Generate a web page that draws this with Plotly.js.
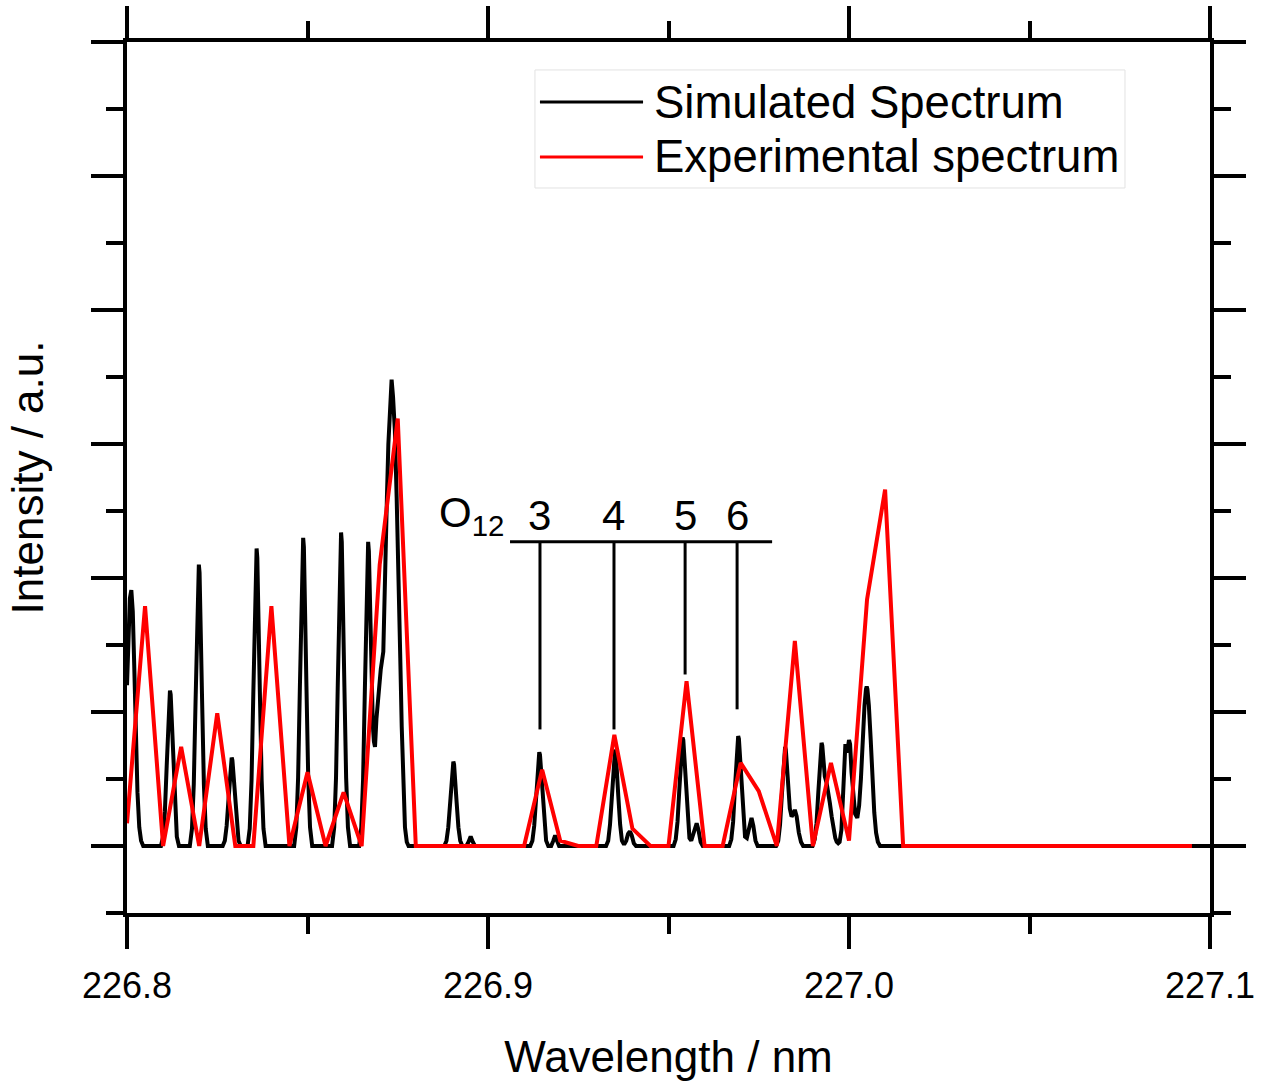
<!DOCTYPE html>
<html>
<head>
<meta charset="utf-8">
<script src="https://cdn.plot.ly/plotly-3.0.1.min.js"></script>
<style>html,body{margin:0;padding:0;background:#fff;}#chart{width:1269px;height:1088px;}</style>
</head>
<body>
<div id="chart"></div>
<script>
// ---- data ----
const seriesNames = ["Simulated Spectrum", "Experimental spectrum"];

// Simulated spectrum (black), wavelength in nm
const simX = [
226.8000,226.8004,226.8008,226.8012,226.8016,226.8020,226.8024,226.8029,226.8034,226.8039,226.8045,
226.8094,226.8100,226.8105,226.8110,226.8114,226.8117,226.8119,226.8121,226.8124,226.8128,226.8133,226.8138,226.8144,
226.8174,226.8180,226.8185,226.8190,226.8194,226.8197,226.8199,226.8201,226.8204,226.8208,226.8213,226.8218,226.8224,
226.8265,226.8271,226.8276,226.8281,226.8285,226.8288,226.8290,226.8292,226.8295,226.8299,226.8304,226.8309,226.8315,
226.8334,226.8340,226.8345,226.8350,226.8354,226.8357,226.8359,226.8361,226.8364,226.8368,226.8373,226.8378,226.8384,
226.8463,226.8469,226.8474,226.8479,226.8483,226.8486,226.8488,226.8490,226.8493,226.8497,226.8502,226.8507,226.8513,
226.8568,226.8574,226.8579,226.8584,226.8588,226.8591,226.8593,226.8595,226.8598,226.8602,226.8607,226.8612,226.8618,
226.8643,226.8649,226.8654,226.8659,226.8663,226.8666,226.8668,226.8670,226.8673,226.8677,226.8681,226.8684,226.8687,
226.8691,226.8696,226.8703,226.8710,226.8716,226.8720,226.8724,226.8728,226.8733,226.8737,226.8742,226.8747,226.8752,
226.8757,226.8761,226.8766,226.8770,226.8775,226.8780,
226.8879,226.8885,226.8890,226.8895,226.8899,226.8902,226.8904,226.8906,226.8909,226.8913,226.8918,226.8923,226.8929,
226.8940,226.8946,226.8952,226.8958,226.8964,
226.9117,226.9123,226.9128,226.9133,226.9137,226.9140,226.9142,226.9144,226.9147,226.9151,226.9156,226.9161,226.9167,
226.9175,226.9181,226.9186,226.9191,226.9197,
226.9327,226.9333,226.9338,226.9343,226.9347,226.9350,226.9352,226.9354,226.9357,226.9361,226.9366,226.9371,226.9377,
226.9383,226.9388,226.9393,226.9398,226.9404,226.9410,
226.9514,226.9520,226.9525,226.9530,226.9534,226.9537,226.9539,226.9541,226.9544,226.9548,226.9553,226.9558,
226.9563,226.9568,226.9573,226.9578,226.9583,226.9589,226.9595,
226.9668,226.9674,226.9679,226.9684,226.9688,226.9691,226.9693,226.9695,226.9698,226.9702,226.9707,226.9712,
226.9717,226.9722,226.9726,226.9730,226.9735,226.9741,226.9747,
226.9798,226.9804,226.9809,226.9814,226.9818,226.9821,226.9823,226.9825,226.9828,226.9832,226.9836,226.9841,226.9846,
226.9850,226.9855,226.9861,226.9867,226.9873,
226.9899,226.9905,226.9910,226.9915,226.9919,226.9922,226.9924,226.9926,226.9929,226.9933,226.9938,226.9943,226.9947,
226.9952,226.9957,226.9962,226.9966,226.9970,
226.9974,226.9979,226.9983,226.9987,226.9990,226.9993,226.9996,227.0000,227.0003,227.0007,227.0012,227.0017,227.0023,
227.0028,227.0033,227.0038,227.0043,227.0047,227.0049,227.0051,227.0055,227.0060,227.0065,227.0070,227.0075,227.0080,227.0086,
227.1000
];
const simY = [
1.20,1.60,1.85,1.91,1.75,1.35,0.85,0.40,0.14,0.04,0,
0,0.07,0.26,0.60,0.95,1.13,1.16,1.13,0.95,0.60,0.26,0.07,0,
0,0.13,0.46,1.09,1.72,2.04,2.10,2.04,1.72,1.09,0.46,0.13,0,
0,0.04,0.15,0.34,0.54,0.64,0.66,0.64,0.54,0.34,0.15,0.04,0,
0,0.13,0.49,1.15,1.82,2.15,2.22,2.15,1.82,1.15,0.49,0.13,0,
0,0.14,0.51,1.20,1.89,2.23,2.30,2.23,1.89,1.20,0.51,0.14,0,
0,0.14,0.51,1.22,1.92,2.27,2.34,2.27,1.92,1.22,0.51,0.14,0,
0,0.14,0.50,1.18,1.86,2.20,2.27,2.20,1.80,1.25,0.90,0.78,0.74,
0.95,1.14,1.32,1.45,2.00,2.60,3.00,3.30,3.48,3.35,3.10,2.60,2.10,
1.40,0.89,0.40,0.14,0.03,0,
0,0.04,0.14,0.33,0.52,0.61,0.63,0.61,0.52,0.33,0.14,0.04,0,
0,0.03,0.07,0.03,0,
0,0.04,0.15,0.36,0.57,0.68,0.70,0.68,0.57,0.36,0.15,0.04,0,
0,0.04,0.08,0.04,0,
0,0.04,0.16,0.37,0.59,0.70,0.72,0.70,0.59,0.37,0.16,0.04,0.01,
0.04,0.09,0.11,0.08,0.02,0,
0,0.05,0.18,0.42,0.66,0.79,0.81,0.79,0.66,0.42,0.18,0.06,
0.04,0.08,0.14,0.17,0.12,0.03,0,
0,0.05,0.18,0.43,0.67,0.80,0.82,0.80,0.67,0.43,0.18,0.07,
0.06,0.12,0.18,0.21,0.15,0.04,0,
0,0.04,0.16,0.38,0.61,0.72,0.74,0.72,0.61,0.42,0.28,0.22,0.24,
0.27,0.22,0.10,0.03,0,
0,0.05,0.17,0.40,0.63,0.75,0.77,0.75,0.66,0.52,0.47,0.40,0.32,
0.22,0.12,0.06,0.03,0.02,
0.03,0.12,0.35,0.62,0.76,0.70,0.72,0.79,0.76,0.55,0.35,0.24,0.21,
0.30,0.50,0.80,1.05,1.17,1.19,1.17,1.05,0.80,0.50,0.25,0.10,0.03,0,
0
];

// Experimental spectrum (red), sampled every 0.005 nm
const expX = [
226.800,226.805,226.810,226.815,226.820,226.825,226.830,226.835,226.840,226.845,
226.850,226.855,226.860,226.865,226.870,226.875,226.880,226.885,226.890,226.895,
226.900,226.905,226.910,226.915,226.920,226.925,226.930,226.935,226.940,226.945,
226.950,226.955,226.960,226.965,226.970,226.975,226.980,226.985,226.990,226.995,
227.000,227.005,227.010,227.015,227.020,227.025,227.030,227.035,227.040,227.045,
227.050,227.055,227.060,227.065,227.070,227.075,227.080,227.085,227.090,227.095
];
const expY = [
0.17,1.79,0,0.74,0,0.99,0,0,1.79,0,
0.55,0,0.40,0,2.10,3.19,0,0,0,0,
0,0,0,0.57,0.04,0,0,0.83,0.13,0,
0,1.23,0,0,0.62,0.41,0,1.53,0,0.62,
0.04,1.84,2.66,0,0,0,0,0,0,0,
0,0,0,0,0,0,0,0,0,0
];

// O12 band-head assignment labels
const bandLabels = ["3","4","5","6"];
const bandX = [226.9144, 226.9349, 226.9546, 226.9690];
const bandLineBottom = [0.87, 0.87, 1.28, 1.02];

const tickVals = [226.8, 226.9, 227.0, 227.1];
const tickText = ["226.8", "226.9", "227.0", "227.1"];

// ---- chart ----
const FONT = "Liberation Sans, Arial, Helvetica, sans-serif";
const colors = ["#000000", "#ff0000"];

const traces = [
  {x: simX, y: simY, type: "scatter", mode: "lines", name: seriesNames[0],
   line: {color: colors[0], width: 4}, showlegend: false, hoverinfo: "skip"},
  {x: expX, y: expY, type: "scatter", mode: "lines", name: seriesNames[1],
   line: {color: colors[1], width: 4}, showlegend: false, hoverinfo: "skip"}
];

const barY = 2.27, barX0 = 226.9061, barX1 = 226.9787;
const shapes = [
  {type: "line", xref: "x", yref: "y", x0: barX0, x1: barX1, y0: barY, y1: barY,
   line: {color: "#000", width: 3}}
];
bandX.forEach((bx, i) => {
  shapes.push({type: "line", xref: "x", yref: "y", x0: bx, x1: bx, y0: barY, y1: bandLineBottom[i],
    line: {color: "#000", width: 3}});
});
// legend box and sample lines
shapes.push({type: "rect", xref: "paper", yref: "paper", x0: 0.3767, x1: 0.9215, y0: 0.8324, y1: 0.9679,
  line: {color: "#e2e2e2", width: 1}, fillcolor: "rgba(255,255,255,0)"});
const legY = [0.9311, 0.8680];
seriesNames.forEach((n, i) => {
  shapes.push({type: "line", xref: "paper", yref: "paper", x0: 0.3813, x1: 0.4765, y0: legY[i], y1: legY[i],
    line: {color: colors[i], width: 3}});
});

const annotations = [];
seriesNames.forEach((n, i) => {
  annotations.push({xref: "paper", yref: "paper", x: 0.4850, y: legY[i], xanchor: "left", yanchor: "middle",
    text: n, showarrow: false, font: {family: FONT, size: 45.5, color: "#000"}});
});
bandLabels.forEach((t, i) => {
  annotations.push({xref: "x", yref: "y", x: bandX[i], y: 2.47, xanchor: "center", yanchor: "middle",
    text: t, showarrow: false, font: {family: FONT, size: 42, color: "#000"}});
});
annotations.push({xref: "x", yref: "y", x: 226.8860, y: 2.47, xanchor: "left", yanchor: "middle",
  text: "O<sub>12</sub>", showarrow: false, font: {family: FONT, size: 42, color: "#000"}});

const layout = {
  width: 1269, height: 1088,
  margin: {l: 127, r: 59, t: 42, b: 175, pad: 0},
  paper_bgcolor: "#fff", plot_bgcolor: "#fff",
  font: {family: FONT, color: "#000"},
  showlegend: false,
  xaxis: {
    range: [226.8, 227.1], tickvals: tickVals, ticktext: tickText,
    ticks: "outside", ticklen: 32, tickwidth: 4, tickcolor: "#000",
    ticklabelstandoff: 6,
    minor: {tickvals: [226.85, 226.95, 227.05], ticks: "outside", ticklen: 17, tickwidth: 4, tickcolor: "#000"},
    showline: true, linewidth: 4, linecolor: "#000", mirror: "allticks",
    showgrid: false, zeroline: false,
    tickfont: {family: FONT, size: 36, color: "#000"},
    title: {text: "Wavelength / nm", font: {family: FONT, size: 44, color: "#000"}, standoff: 37},
    automargin: false
  },
  yaxis: {
    range: [-0.5, 6], tick0: 0, dtick: 1,
    ticks: "outside", ticklen: 32, tickwidth: 4, tickcolor: "#000",
    minor: {dtick: 0.5, ticks: "outside", ticklen: 17, tickwidth: 4, tickcolor: "#000"},
    showline: true, linewidth: 4, linecolor: "#000", mirror: "allticks",
    showgrid: false, zeroline: false, showticklabels: false,
    title: {text: "Intensity / a.u.", font: {family: FONT, size: 44, color: "#000"}, standoff: 35},
    automargin: false
  },
  shapes: shapes,
  annotations: annotations
};

Plotly.newPlot("chart", traces, layout, {staticPlot: true, displayModeBar: false});
</script>
</body>
</html>
